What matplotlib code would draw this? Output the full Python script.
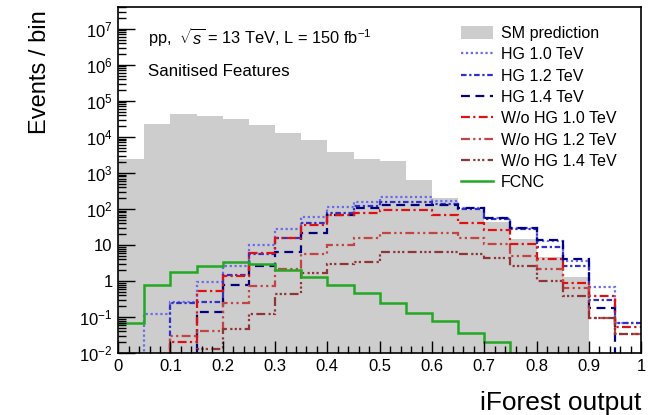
import numpy as np
import matplotlib
matplotlib.use('Agg')
import matplotlib.pyplot as plt
from matplotlib.patches import Patch
from matplotlib.lines import Line2D
from matplotlib.ticker import LogLocator, FuncFormatter, MultipleLocator, NullFormatter

plt.rcParams['font.family'] = ['Liberation Sans', 'DejaVu Sans']
plt.rcParams['mathtext.fontset'] = 'custom'
plt.rcParams['mathtext.rm'] = 'Liberation Sans'
plt.rcParams['mathtext.it'] = 'Liberation Sans:italic'

# bin edges of the iForest output (20 bins of 0.05)
edges = np.linspace(0, 1, 21)

# events per bin (0 = empty bin)
sm = [2.4e3, 2.3e4, 4.2e4, 3.7e4, 3.2e4, 2.2e4, 1.3e4, 8.4e3, 3.9e3, 2.4e3,
      2.2e3, 640, 200, 93, 43, 15, 4.8, 1.3, 0, 0]
hg_10 = [0, 0.12, 0.27, 0.92, 2.6, 10, 27, 60, 110, 160,
         218, 218, 165, 105, 55, 29, 13, 3.5, 0.7, 0.07]
hg_12 = [0, 0, 0.25, 0.27, 1.5, 5.5, 16, 40, 78, 120,
         158, 158, 140, 100, 52, 28, 8.6, 2.7, 0.3, 0.07]
hg_14 = [0, 0, 0, 0.14, 0.8, 2.6, 6.3, 21, 67, 105,
         128, 128, 128, 105, 55, 29, 13.4, 4.0, 0.18, 0]
wo_10 = [0, 0, 0.02, 0.53, 1.4, 5.9, 16, 35, 67, 78,
         92, 92, 67, 41, 26, 11, 4.2, 0.9, 0.39, 0.053]
wo_12 = [0, 0, 0.03, 0.041, 0.25, 0.74, 2.2, 5.5, 9.8, 16,
         21, 21, 21, 15.5, 11, 5.1, 2.2, 0.65, 0.095, 0.034]
wo_14 = [0, 0, 0, 0.013, 0.048, 0.12, 0.45, 1.7, 3.0, 3.3,
         6.3, 6.3, 6.3, 5.8, 4.5, 2.7, 1.03, 0.39, 0.095, 0.034]
fcnc = [0.07, 0.78, 1.75, 2.7, 3.3, 3.0, 2.0, 1.27, 0.8, 0.48,
        0.24, 0.13, 0.078, 0.037, 0.02, 0, 0, 0, 0, 0]

ytick_vals = [1e-2, 1e-1, 1, 10, 1e2, 1e3, 1e4, 1e5, 1e6, 1e7]

floor = 1e-3  # empty bins are drawn below the axis range


def safe(v):
    v = np.asarray(v, dtype=float)
    return np.where(v > 0, v, floor)


fig = plt.figure(figsize=(6.49, 4.15), dpi=100)
ax = fig.add_axes([0.182, 0.149, 0.806, 0.834])

ax.stairs(safe(sm), edges, fill=True, color='#cdcdcd', baseline=floor)

signals = [
    (hg_10, 'HG 1.0 TeV', '#6a6aee', (0, (1, 1.2))),
    (hg_12, 'HG 1.2 TeV', '#3030c8', (0, (2.5, 1.2, 1, 1.2))),
    (hg_14, 'HG 1.4 TeV', '#000080', (0, (4, 2.5))),
    (wo_10, 'W/o HG 1.0 TeV', '#dd1111', (0, (4, 1.5, 1, 1.5))),
    (wo_12, 'W/o HG 1.2 TeV', '#c44444', (0, (4, 1.5, 1, 1.5, 1, 1.5))),
    (wo_14, 'W/o HG 1.4 TeV', '#8f3535', (0, (4, 1.5, 1, 1, 1, 1, 1, 1.5))),
]
for vals, lab, col, ls in signals:
    ax.stairs(safe(vals), edges, color=col, linestyle=ls, lw=1.6, baseline=None)
ax.stairs(safe(fcnc), edges, color='#22a822', lw=1.8, baseline=None)

ax.set_yscale('log')
ax.set_xlim(0, 1)
ax.set_ylim(1e-2, 4e7)


def yfmt(v, pos):
    e = int(round(np.log10(v)))
    if e == 0:
        return '1'
    if e == 1:
        return '10'
    return r'$10^{%d}$' % e


ax.yaxis.set_major_locator(LogLocator(base=10, numticks=20))
ax.yaxis.set_major_formatter(FuncFormatter(yfmt))
ax.yaxis.set_minor_locator(LogLocator(base=10, subs=np.arange(2, 10), numticks=20))
ax.yaxis.set_minor_formatter(NullFormatter())
ax.set_yticks(ytick_vals)
ax.xaxis.set_major_locator(MultipleLocator(0.1))
ax.xaxis.set_minor_locator(MultipleLocator(0.02))
ax.xaxis.set_major_formatter(FuncFormatter(lambda v, p: '%g' % round(v, 2)))

ax.tick_params(which='both', direction='in', labelsize=12)
ax.tick_params(which='major', length=12, width=1)
ax.tick_params(which='minor', length=6, width=1)
ax.tick_params(axis='x', which='major', length=9)
ax.tick_params(axis='x', which='minor', length=5)
ax.tick_params(axis='x', pad=4)
ax.tick_params(axis='y', pad=4)
for s in ax.spines.values():
    s.set_linewidth(1.2)

fig.text(0.988, 0.03, 'iForest output', ha='right', va='center', fontsize=19)
fig.text(0.062, 0.975, 'Events / bin', ha='center', va='top', rotation=90, fontsize=17)

ax.text(0.057, 0.912, r'pp,  $\sqrt{s}$ = 13 TeV, L = 150 fb$^{-1}$', transform=ax.transAxes,
        fontsize=11.8, va='center', ha='left')
ax.text(0.057, 0.815, 'Sanitised Features', transform=ax.transAxes,
        fontsize=12.2, va='center', ha='left')

handles = [Patch(facecolor='#cdcdcd', edgecolor='none')]
labels = ['SM prediction']
for vals, lab, col, ls in signals:
    handles.append(Line2D([], [], color=col, linestyle=ls, lw=1.6))
    labels.append(lab)
handles.append(Line2D([], [], color='#22a822', lw=1.8))
labels.append('FCNC')
ax.legend(handles, labels, loc='upper left', bbox_to_anchor=(0.655, 0.946),
          frameon=False, fontsize=11.5, borderpad=0, borderaxespad=0,
          handlelength=2.0, handletextpad=0.5, labelspacing=0.39, handleheight=0.9)

fig.savefig('out.png', dpi=100)
